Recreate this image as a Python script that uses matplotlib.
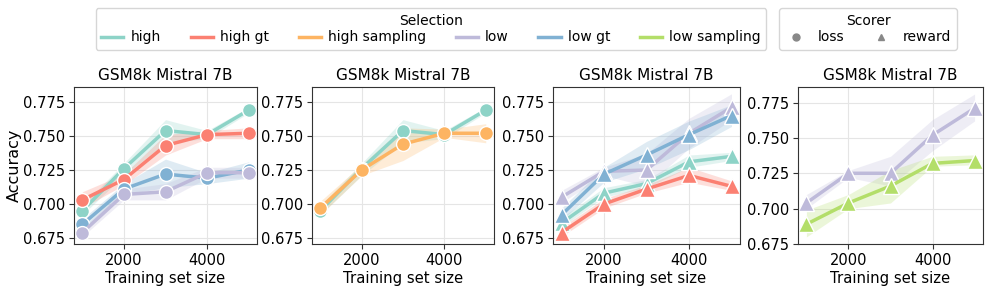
import numpy as np
import matplotlib.pyplot as plt
from matplotlib.lines import Line2D

sizes = [1000, 2000, 3000, 4000, 5000]

colors = {
    "high": "#8dd3c7",
    "high gt": "#fb8072",
    "high sampling": "#fdb462",
    "low": "#bebada",
    "low gt": "#80b1d3",
    "low sampling": "#b3de69",
}

# panel 1: loss scorer
p1_high = [0.695, 0.726, 0.754, 0.751, 0.769]
p1_high_lo = [0.692, 0.721, 0.745, 0.748, 0.767]
p1_high_hi = [0.699, 0.730, 0.762, 0.754, 0.771]
p1_highgt = [0.703, 0.718, 0.743, 0.751, 0.752]
p1_highgt_lo = [0.697, 0.714, 0.736, 0.748, 0.748]
p1_highgt_hi = [0.709, 0.722, 0.751, 0.754, 0.756]
p1_lowgt = [0.685, 0.711, 0.722, 0.719, 0.725]
p1_lowgt_lo = [0.681, 0.707, 0.712, 0.715, 0.719]
p1_lowgt_hi = [0.689, 0.715, 0.733, 0.723, 0.731]
p1_low = [0.679, 0.707, 0.709, 0.723, 0.723]
p1_low_lo = [0.676, 0.703, 0.703, 0.719, 0.719]
p1_low_hi = [0.682, 0.711, 0.715, 0.727, 0.727]

# panel 2: loss scorer
p2_high = [0.695, 0.726, 0.754, 0.751, 0.769]
p2_high_lo = [0.692, 0.721, 0.745, 0.748, 0.767]
p2_high_hi = [0.699, 0.730, 0.762, 0.754, 0.771]
p2_highs = [0.697, 0.725, 0.744, 0.752, 0.752]
p2_highs_lo = [0.692, 0.721, 0.732, 0.749, 0.745]
p2_highs_hi = [0.702, 0.729, 0.756, 0.755, 0.759]

# panel 3: reward scorer
p3_low = [0.705, 0.724, 0.725, 0.752, 0.771]
p3_low_lo = [0.701, 0.721, 0.713, 0.741, 0.762]
p3_low_hi = [0.710, 0.727, 0.737, 0.763, 0.781]
p3_lowgt = [0.692, 0.722, 0.736, 0.751, 0.765]
p3_lowgt_lo = [0.688, 0.716, 0.726, 0.740, 0.757]
p3_lowgt_hi = [0.697, 0.727, 0.746, 0.761, 0.773]
p3_high = [0.686, 0.708, 0.715, 0.731, 0.735]
p3_high_lo = [0.683, 0.705, 0.712, 0.727, 0.732]
p3_high_hi = [0.690, 0.712, 0.718, 0.736, 0.738]
p3_highgt = [0.679, 0.700, 0.711, 0.721, 0.713]
p3_highgt_lo = [0.676, 0.697, 0.708, 0.716, 0.710]
p3_highgt_hi = [0.683, 0.704, 0.714, 0.727, 0.717]

# panel 4: reward scorer
p4_low = [0.704, 0.725, 0.725, 0.752, 0.771]
p4_low_lo = [0.700, 0.722, 0.716, 0.741, 0.762]
p4_low_hi = [0.710, 0.727, 0.737, 0.763, 0.781]
p4_lows = [0.689, 0.704, 0.716, 0.732, 0.734]
p4_lows_lo = [0.680, 0.700, 0.704, 0.730, 0.731]
p4_lows_hi = [0.699, 0.710, 0.727, 0.737, 0.738]

panels = [
    ("o", [("high", p1_high, p1_high_lo, p1_high_hi),
           ("high gt", p1_highgt, p1_highgt_lo, p1_highgt_hi),
           ("low gt", p1_lowgt, p1_lowgt_lo, p1_lowgt_hi),
           ("low", p1_low, p1_low_lo, p1_low_hi)]),
    ("o", [("high", p2_high, p2_high_lo, p2_high_hi),
           ("high sampling", p2_highs, p2_highs_lo, p2_highs_hi)]),
    ("^", [("high", p3_high, p3_high_lo, p3_high_hi),
           ("high gt", p3_highgt, p3_highgt_lo, p3_highgt_hi),
           ("low", p3_low, p3_low_lo, p3_low_hi),
           ("low gt", p3_lowgt, p3_lowgt_lo, p3_lowgt_hi)]),
    ("^", [("low", p4_low, p4_low_lo, p4_low_hi),
           ("low sampling", p4_lows, p4_lows_lo, p4_lows_hi)]),
]

W, H = 996, 292
fig = plt.figure(figsize=(W / 100, H / 100), dpi=100)

boxes = [(74, 183), (312, 182), (553, 187), (798, 185)]
top, bottom = 87, 244
ylims = [(0.6706, 0.786), (0.6706, 0.786), (0.6706, 0.786), (0.6753, 0.786)]

for i, ((marker, series), (left, width)) in enumerate(zip(panels, boxes)):
    ax = fig.add_axes([left / W, (H - bottom) / H, width / W, (bottom - top) / H])
    for name, vals, lo, hi in series:
        c = colors[name]
        ax.fill_between(sizes, lo, hi, color=c, alpha=0.25, linewidth=0)
        ax.plot(sizes, vals, color=c, lw=2.5, marker=marker, ms=10 if marker == "o" else 11,
                markeredgecolor="white", markeredgewidth=1.0)
    ax.set_ylim(*ylims[i])
    ax.set_xticks([2000, 4000])
    ax.set_yticks([0.675, 0.700, 0.725, 0.750, 0.775])
    ax.tick_params(labelsize=10.5, color="#333333", length=3.5, pad=3)
    ax.grid(True, color="#e5e5e5", lw=0.8)
    ax.set_axisbelow(True)
    for s in ax.spines.values():
        s.set_color("#333333")
    ax.set_title("GSM8k Mistral 7B", fontsize=11, pad=5)
    ax.set_xlabel("Training set size", fontsize=10.7, labelpad=2)
    if i == 0:
        ax.set_ylabel("Accuracy", fontsize=11.5)
        ax.yaxis.set_label_coords((22 - left) / width, 0.5)

sel_handles = [Line2D([], [], color=c, lw=2.5) for c in colors.values()]
leg1 = fig.legend(sel_handles, list(colors.keys()), title="Selection", ncol=6,
                  loc="center", bbox_to_anchor=(431 / W, 1 - 29 / H), fontsize=10,
                  title_fontsize=10, frameon=True, columnspacing=2.15, handlelength=1.6,
                  handletextpad=0.5, borderpad=0.4, labelspacing=0.2)
leg1.get_frame().set_edgecolor("#cccccc")

sc_handles = [Line2D([], [], color="#888888", marker="o", ls="", ms=5),
              Line2D([], [], color="#888888", marker="^", ls="", ms=5)]
leg2 = fig.legend(sc_handles, ["loss", "reward"], title="Scorer", ncol=2,
                  loc="center", bbox_to_anchor=(868 / W, 1 - 29 / H), fontsize=10,
                  title_fontsize=10, frameon=True, columnspacing=1.8, handlelength=1.6,
                  handletextpad=0.8, borderpad=0.4, labelspacing=0.2)
leg2.get_frame().set_edgecolor("#cccccc")

fig.savefig("out.png", dpi=100)
